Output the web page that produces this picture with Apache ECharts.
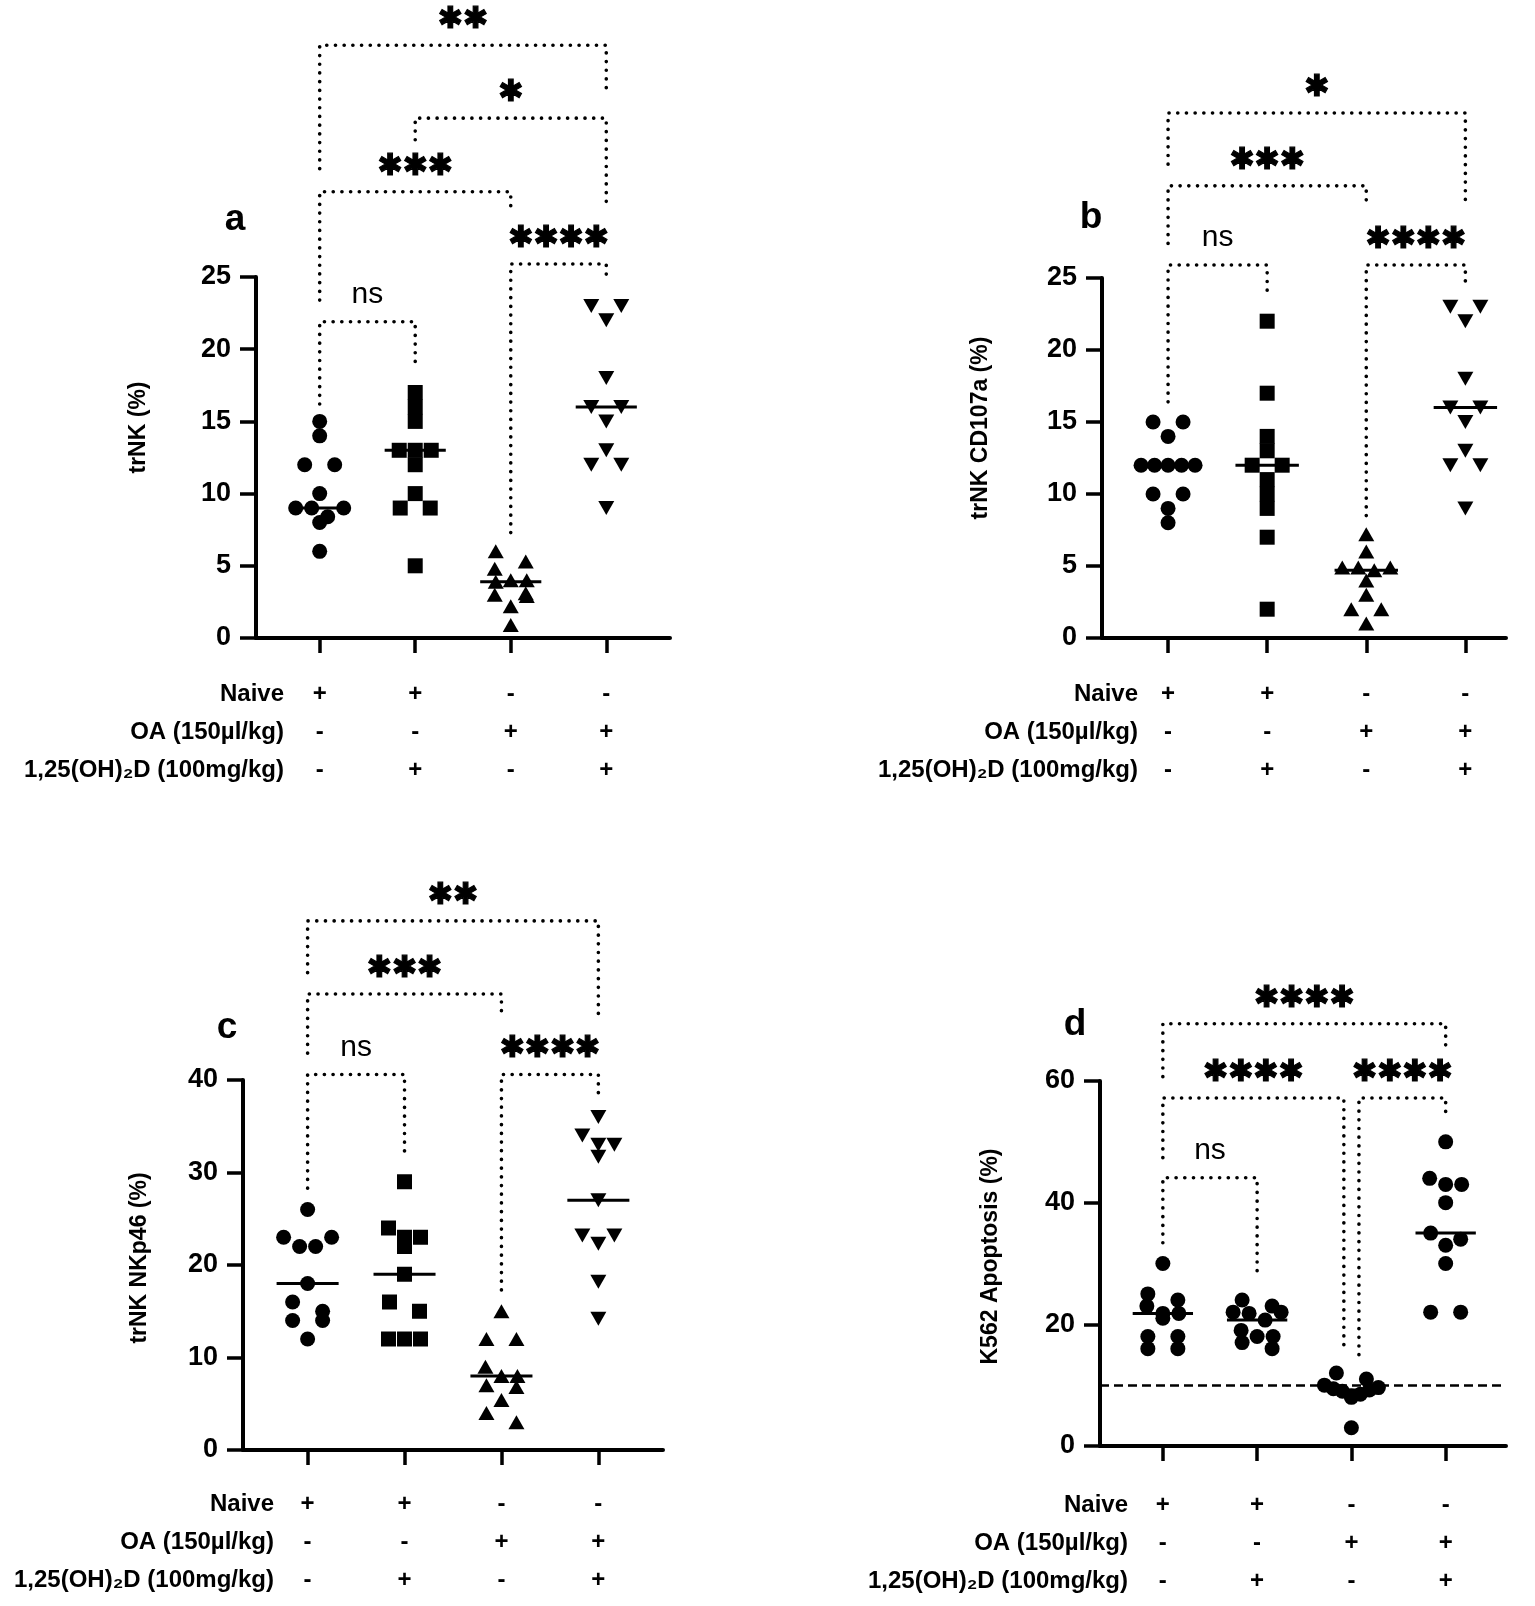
<!DOCTYPE html>
<html><head><meta charset="utf-8">
<script src="https://cdn.jsdelivr.net/npm/echarts@6/dist/echarts.min.js"></script>
<style>html,body{margin:0;padding:0;background:#fff}#c{width:1535px;height:1606px}</style>
</head><body><div id="c"></div>
<script>
// ---------------- data ----------------
const groupIds = [1, 2, 3, 4];
const naiveRow = ['+', '+', '-', '-'];
const oaRow = ['-', '-', '+', '+'];
const vitdRow = ['-', '+', '-', '+'];
const rowLabels = ['Naive', 'OA (150µl/kg)', '1,25(OH)₂D (100mg/kg)'];

// panel a: trNK (%)
const aYTicks = [0, 5, 10, 15, 20, 25];
const aNaive = [15, 14, 12, 12, 10, 9, 9, 9, 8.4, 8, 6];
const aVitD = [17, 16, 15, 13, 13, 13, 12, 10, 9, 9, 5];
const aOA = [6, 5.3, 4.8, 4, 4, 3.9, 3.1, 3, 2.9, 2.2, 0.9];
const aOAVitD = [23, 23, 22, 18, 16, 16, 15, 13, 12, 12, 9];
// brackets: [fromGroup, toGroup, leftLegEnd, top, rightLegEnd, label]
const aBrackets = [
  [1, 4, 32.5, 41.05, 37.9, '✱✱'],
  [2, 4, 34.5, 36.0, 29.8, '✱'],
  [1, 3, 23.4, 30.9, 29.8, '✱✱✱'],
  [3, 4, 7.3, 25.9, 24.7, '✱✱✱✱'],
  [1, 2, 16.2, 21.9, 18.7, 'ns']
];

// panel b: trNK CD107a (%)
const bYTicks = [0, 5, 10, 15, 20, 25];
const bNaive = [15, 15, 14, 12, 12, 12, 12, 12, 10, 10, 9, 8];
const bVitD = [22, 17, 14, 13, 12, 12, 11, 10, 9, 7, 2];
const bOA = [7.2, 6, 4.9, 4.9, 4.9, 4.7, 4, 3, 2, 2, 1];
const bOAVitD = [23, 23, 22, 18, 16, 16, 15, 13, 12, 12, 9];
const bBrackets = [
  [1, 4, 32.9, 36.46, 29.9, '✱'],
  [1, 3, 27.4, 31.4, 29.9, '✱✱✱'],
  [1, 2, 16.4, 25.9, 23.6, 'ns'],
  [3, 4, 8.5, 25.9, 24.65, '✱✱✱✱']
];

// panel c: trNK NKp46 (%)
const cYTicks = [0, 10, 20, 30, 40];
const cNaive = [26, 23, 23, 22, 22, 18, 16, 15, 14, 14, 12];
const cVitD = [29, 24, 23, 23, 22, 19, 16, 15, 12, 12, 12];
const cOA = [15, 12, 12, 9, 8, 8, 7, 6.8, 5.4, 4, 3];
const cOAVitD = [36, 34, 33, 33, 31.7, 27, 23.2, 23.2, 22.3, 18.2, 14.2];
const cBrackets = [
  [1, 4, 51.6, 57.2, 46.7, '✱✱'],
  [1, 3, 42.9, 49.3, 46.7, '✱✱✱'],
  [1, 2, 28.3, 40.6, 31.6, 'ns'],
  [3, 4, 17.3, 40.6, 38.4, '✱✱✱✱']
];

// panel d: K562 Apoptosis (%)
const dYTicks = [0, 20, 40, 60];
const dNaive = [30, 25, 24, 23, 21.8, 21.8, 21, 18, 18, 16, 16];
const dVitD = [24, 23, 22, 22, 21.8, 20.7, 19, 18, 18, 17, 16];
const dOA = [12, 11, 10, 9.6, 9.4, 9.2, 9, 8.5, 8.2, 8, 3];
const dOAVitD = [50, 44, 43, 43, 40, 35, 34, 33, 30, 22, 22];
const dThreshold = [10];
const dBrackets = [
  [1, 4, 60.7, 69.4, 65.8, '✱✱✱✱'],
  [1, 2.92, 47.4, 57.2, 15.8, '✱✱✱✱'],
  [3.08, 4, 15.0, 57.2, 54.1, '✱✱✱✱'],
  [1, 2, 33.4, 44.1, 28.5, 'ns']
];

// ---------------- layout / style ----------------
const FONT = '"Liberation Sans", Arial, Helvetica, sans-serif';
const STAR_FONT = '"DejaVu Sans", sans-serif';
const XMIN = 1 / 3;

const MARKS_MIXED = [
  { symbol: 'circle', rotate: 0, size: [15, 15] },
  { symbol: 'rect', rotate: 0, size: [15, 15] },
  { symbol: 'triangle', rotate: 0, size: [16, 14] },
  { symbol: 'triangle', rotate: 180, size: [16, 14] }
];
const MARKS_CIRCLES = [0, 1, 2, 3].map(() => ({ symbol: 'circle', rotate: 0, size: [15, 15] }));

const panels = [
  { letter: 'a', title: 'trNK (%)', yTicks: aYTicks, groups: [aNaive, aVitD, aOA, aOAVitD], brackets: aBrackets, threshold: null,
    marks: MARKS_MIXED,
    L: { left: 256, top: 277, width: 414, height: 361, xMax: 4.667, overlayTop: 0, nameGap: 106, nameShift: 60,
         letterX: 235, letterY: 220, rowRight: 284, rowTop: 694, labelMargin: 37 } },
  { letter: 'b', title: 'trNK CD107a (%)', yTicks: bYTicks, groups: [bNaive, bVitD, bOA, bOAVitD], brackets: bBrackets, threshold: null,
    marks: MARKS_MIXED,
    L: { left: 1102, top: 278, width: 404, height: 360, xMax: 4.41, overlayTop: 0, nameGap: 110, nameShift: 60,
         letterX: 1091, letterY: 218, rowRight: 1138, rowTop: 694, labelMargin: 37 } },
  { letter: 'c', title: 'trNK NKp46 (%)', yTicks: cYTicks, groups: [cNaive, cVitD, cOA, cOAVitD], brackets: cBrackets, threshold: null,
    marks: MARKS_MIXED,
    L: { left: 243, top: 1080, width: 420, height: 370, xMax: 4.667, overlayTop: 840, nameGap: 92, nameShift: 14,
         letterX: 227, letterY: 1028, rowRight: 274, rowTop: 1504, labelMargin: 35 } },
  { letter: 'd', title: 'K562 Apoptosis (%)', yTicks: dYTicks, groups: [dNaive, dVitD, dOA, dOAVitD], brackets: dBrackets, threshold: dThreshold,
    marks: MARKS_CIRCLES,
    L: { left: 1100, top: 1081, width: 406, height: 365, xMax: 4.64, overlayTop: 940, nameGap: 98, nameShift: 14,
         letterX: 1075, letterY: 1025, rowRight: 1128, rowTop: 1505, labelMargin: 40 } }
];

const ROW_GAP = 38;
const SWARM_D = 12;       // px: vertical distance under which points share a row
const SWARM_S = 16;       // px: horizontal spacing within a row
const SWARM_S2 = 30;      // px: spacing for rows of two
const SWARM_MAXW = 54;    // px: widest a row may spread
const MEDIAN_HALF = 0.32;
const STAR_OFFSET = 25, NS_OFFSET = 27;

function median(arr) {
  const s = [...arr].sort((a, b) => a - b), n = s.length;
  return n % 2 ? s[(n - 1) / 2] : (s[n / 2 - 1] + s[n / 2]) / 2;
}
// row-based dot-plot layout: points close in value share a row, outermost slots first
function swarm(values, g, xPx, yPx) {
  const sorted = values.slice().sort((a, b) => b - a);
  const rows = []; let cur = null;
  sorted.forEach(v => {
    if (cur && (cur[0] - v) * yPx < SWARM_D) cur.push(v);
    else { cur = [v]; rows.push(cur); }
  });
  const out = [];
  rows.forEach(r => {
    const n = r.length;
    let s = n === 2 ? SWARM_S2 : SWARM_S;
    if (n > 2) s = Math.min(s, SWARM_MAXW / (n - 1));
    const order = [];
    for (let lo = 0, hi = n - 1; lo <= hi; lo++, hi--) { order.push(lo); if (hi !== lo) order.push(hi); }
    r.forEach((v, k) => out.push([g + (order[k] - (n - 1) / 2) * s / xPx, v]));
  });
  return out;
}

const grids = [], xAxes = [], yAxes = [], series = [];

panels.forEach((P, pi) => {
  const L = P.L;
  const gi = pi * 2;
  const yMin = P.yTicks[0], yMax = P.yTicks[P.yTicks.length - 1], yInt = P.yTicks[1] - P.yTicks[0];
  const bottom = L.top + L.height;
  const xPx = L.width / (L.xMax - XMIN);
  const yPx = L.height / (yMax - yMin);
  const overlayMax = yMax * (bottom - L.overlayTop) / L.height;

  grids.push({ left: L.left, top: L.top, width: L.width, height: L.height, outerBoundsMode: 'none' });
  grids.push({ left: L.left, top: L.overlayTop, width: L.width, height: bottom - L.overlayTop, outerBoundsMode: 'none' });

  xAxes.push({
    type: 'value', gridIndex: gi, min: XMIN, max: L.xMax, splitLine: { show: false },
    axisLine: { show: true, onZero: false, lineStyle: { color: '#000', width: 4 } },
    axisTick: { show: true, customValues: groupIds, length: 15, lineStyle: { color: '#000', width: 3.5 } },
    axisLabel: {
      show: true, customValues: groupIds, margin: L.labelMargin,
      formatter: v => { const i = Math.round(v) - 1; return [naiveRow[i], oaRow[i], vitdRow[i]].join('\n'); },
      fontSize: 24, fontWeight: 'bold', fontFamily: FONT, color: '#000', lineHeight: ROW_GAP
    }
  });
  xAxes.push({ type: 'value', gridIndex: gi + 1, min: XMIN, max: L.xMax, show: false });

  yAxes.push({
    type: 'value', gridIndex: gi, min: yMin, max: yMax, interval: yInt, splitLine: { show: false },
    axisLine: { show: true, onZero: false, lineStyle: { color: '#000', width: 4 } },
    axisTick: { show: true, length: 16, lineStyle: { color: '#000', width: 3.5 } },
    axisLabel: { margin: 25, fontSize: 27, fontWeight: 'bold', fontFamily: FONT, color: '#000' },
    name: P.title, nameLocation: 'middle', nameGap: L.nameGap,
    nameTextStyle: { fontSize: 23, fontWeight: 'bold', fontFamily: FONT, color: '#000', padding: [0, 0, 0, L.nameShift] }
  });
  yAxes.push({ type: 'value', gridIndex: gi + 1, min: 0, max: overlayMax, show: false });

  // points + medians
  P.groups.forEach((vals, k) => {
    const mk = P.marks[k];
    const s = {
      type: 'scatter', xAxisIndex: gi, yAxisIndex: gi, symbol: mk.symbol, symbolRotate: mk.rotate,
      symbolSize: mk.size, itemStyle: { color: '#000', opacity: 1 }, silent: true, z: 3,
      data: swarm(vals, groupIds[k], xPx, yPx)
    };
    if (P.threshold && k === 0) {
      s.markLine = {
        silent: true, symbol: ['none', 'none'], label: { show: false },
        lineStyle: { type: [9, 5], color: '#000', width: 2.5 },
        data: P.threshold.map(t => ({ yAxis: t }))
      };
    }
    series.push(s);
    const m = median(vals);
    series.push({
      type: 'line', xAxisIndex: gi, yAxisIndex: gi, symbol: 'none', silent: true, z: 4,
      lineStyle: { color: '#000', width: 3 },
      data: [[groupIds[k] - MEDIAN_HALF, m], [groupIds[k] + MEDIAN_HALF, m]]
    });
  });

  // significance brackets
  P.brackets.forEach(b => {
    const [x1, x2, yl, yt, yr] = b;
    series.push({
      type: 'line', xAxisIndex: gi + 1, yAxisIndex: gi + 1, symbol: 'none', silent: true, z: 2,
      lineStyle: { color: '#000', width: 3.6, type: [0.1, 8.6], cap: 'round' },
      data: [[x1, yl], [x1, yt], [x2, yt], [x2, yr]]
    });
  });
});

const chart = echarts.init(document.getElementById('c'), null, { renderer: 'canvas', width: 1535, height: 1606 });
chart.setOption({
  animation: false,
  backgroundColor: '#fff',
  grid: grids, xAxis: xAxes, yAxis: yAxes, series: series
});

// text annotations placed through the axes' own scales
const graphics = [];
panels.forEach((P, pi) => {
  const L = P.L;
  const gi = pi * 2;
  P.brackets.forEach(b => {
    const ns = b[5] === 'ns';
    const pt = chart.convertToPixel({ xAxisIndex: gi + 1, yAxisIndex: gi + 1 }, [(b[0] + b[1]) / 2, b[3]]);
    graphics.push({
      type: 'text', x: pt[0], y: pt[1] - (ns ? NS_OFFSET : STAR_OFFSET), silent: true, z: 10,
      style: ns
        ? { text: b[5], font: 'normal 30px ' + FONT, fill: '#000', align: 'center', verticalAlign: 'middle' }
        : { text: b[5], font: 'bold 30px ' + STAR_FONT, fill: '#000', stroke: '#000', lineWidth: 1.2, align: 'center', verticalAlign: 'middle' }
    });
  });
  graphics.push({ type: 'text', x: L.letterX, y: L.letterY, silent: true,
    style: { text: P.letter, font: 'bold 37px ' + FONT, fill: '#000', align: 'center', verticalAlign: 'middle' } });
  rowLabels.forEach((t, r) => {
    graphics.push({ type: 'text', x: L.rowRight, y: L.rowTop + r * ROW_GAP, silent: true,
      style: { text: t, font: 'bold 24px ' + FONT, fill: '#000', align: 'right', verticalAlign: 'middle' } });
  });
});
chart.setOption({ graphic: graphics });
</script>
</body></html>
